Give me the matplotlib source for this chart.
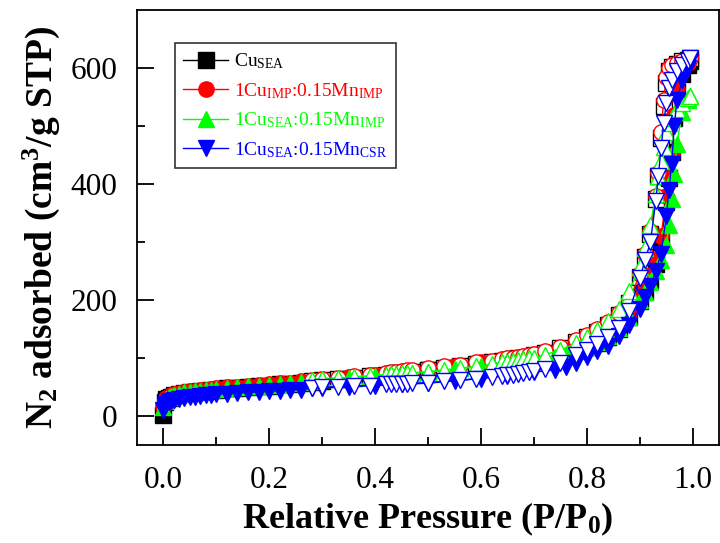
import matplotlib
matplotlib.use('Agg')
import matplotlib.pyplot as plt

plt.rcParams['font.family'] = 'Liberation Serif'
plt.rcParams['mathtext.fontset'] = 'custom'
plt.rcParams['mathtext.rm'] = 'Liberation Serif'
plt.rcParams['mathtext.it'] = 'Liberation Serif:italic'
plt.rcParams['mathtext.bf'] = 'Liberation Serif:bold'

# pressao relativa - ramo de adsorcao
p_ads = [0.0, 0.003, 0.006, 0.01, 0.015, 0.02, 0.03, 0.04, 0.05, 0.06, 0.07, 0.08,
         0.09, 0.10, 0.12, 0.14, 0.16, 0.18, 0.20, 0.22, 0.24, 0.26, 0.28,
         0.30, 0.35, 0.40, 0.45, 0.50, 0.55, 0.60, 0.65, 0.70,
         0.74, 0.76, 0.78, 0.80, 0.82, 0.84, 0.86, 0.88, 0.90, 0.91, 0.92, 0.93,
         0.94, 0.95, 0.955, 0.96, 0.965, 0.97, 0.98, 0.99, 0.995]

# pressao relativa - ramo de dessorcao
p_des = [0.28, 0.30, 0.33, 0.36, 0.39, 0.42, 0.43, 0.44, 0.45, 0.46, 0.47, 0.50,
         0.53, 0.56, 0.59, 0.62, 0.64, 0.65, 0.66, 0.67, 0.68, 0.69, 0.70, 0.72,
         0.75, 0.78, 0.80, 0.82, 0.84, 0.86, 0.88, 0.90, 0.91, 0.92, 0.93, 0.935,
         0.94, 0.945, 0.95, 0.955, 0.96, 0.97, 0.98, 0.99, 0.995]

# Cu_SEA
cu_ads = [2, 24, 29, 32, 34, 36, 38, 40, 41, 42, 43, 44, 45, 46, 48, 49, 51, 52, 53, 55, 56, 58, 59,
          61, 64, 69, 74, 79, 84, 90, 96, 102,
          105, 109, 114, 119, 126, 136, 150, 172, 198, 215, 235, 262, 300, 370, 410, 455, 515, 560, 590, 605, 612]
cu_des = [60, 62, 64, 66, 69, 72, 73, 74, 75, 76, 77, 80, 83, 86, 90, 93, 96, 97, 98, 100, 101, 103, 105,
          109, 117, 128, 136, 146, 158, 174, 196, 240, 275, 315, 375, 415, 480, 535, 575, 595, 603, 608,
          612, 615, 617]

# 1Cu_IMP:0.15Mn_IMP
imp_ads = [18, 27, 31, 34, 36, 38, 40, 42, 43, 44, 45, 46, 47, 48, 50, 51, 53, 54, 55, 57, 58, 60, 61,
           63, 67, 72, 77, 82, 87, 93, 99, 105,
           108, 112, 117, 122, 130, 140, 155, 178, 205, 222, 243, 272, 310, 380, 410, 450, 520, 565, 595, 610, 618]
imp_des = [62, 64, 66, 69, 72, 75, 76, 77, 78, 79, 80, 83, 86, 89, 93, 96, 99, 100, 101, 103, 104, 106, 108,
           112, 120, 132, 140, 150, 162, 178, 200, 245, 280, 320, 380, 420, 490, 545, 585, 600, 606, 610,
           613, 616, 618]

# 1Cu_SEA:0.15Mn_IMP
sea_ads = [16, 26, 30, 33, 35, 37, 39, 41, 42, 43, 44, 45, 46, 47, 49, 50, 52, 53, 54, 56, 57, 59, 61,
           64, 66, 70, 73, 76, 81, 86, 93, 99,
           103, 108, 113, 120, 128, 138, 152, 172, 200, 215, 232, 250, 270, 295, 330, 375, 418, 470, 525, 545, 552]
sea_des = [63, 65, 66, 68, 70, 72, 73, 73, 74, 75, 75, 77, 80, 83, 86, 90, 93, 94, 95, 97, 98, 100, 101,
           106, 114, 126, 136, 148, 164, 185, 216, 258, 290, 330, 383, 415, 440, 465, 490, 505, 515, 530,
           540, 548, 552]

# 1Cu_SEA:0.15Mn_CSR
csr_ads = [10, 17, 21, 24, 26, 28, 30, 32, 33, 34, 35, 36, 37, 38, 39, 40, 41, 42, 43, 44, 45, 46, 48,
           49, 51, 53, 55, 57, 61, 65, 70, 76,
           80, 85, 92, 103, 113, 122, 138, 158, 185, 205, 225, 250, 280, 345, 390, 435, 500, 545, 580, 600, 612]
csr_des = [49, 50, 51, 52, 53, 55, 55, 56, 56, 56, 57, 58, 60, 62, 65, 68, 70, 71, 72, 73, 75, 76, 78,
           82, 91, 105, 115, 124, 136, 152, 182, 238, 270, 300, 371, 415, 462, 505, 540, 566, 580, 595,
           605, 612, 617]

amostras = [
    (r'Cu$_{\mathrm{SEA}}$', cu_ads, cu_des, 'black', 's'),
    (r'1Cu$_{\mathrm{IMP}}$:0.15Mn$_{\mathrm{IMP}}$', imp_ads, imp_des, 'red', 'o'),
    (r'1Cu$_{\mathrm{SEA}}$:0.15Mn$_{\mathrm{IMP}}$', sea_ads, sea_des, '#00ff00', '^'),
    (r'1Cu$_{\mathrm{SEA}}$:0.15Mn$_{\mathrm{CSR}}$', csr_ads, csr_des, 'blue', 'v'),
]

fig = plt.figure(figsize=(7.2, 5.43), dpi=100)
ax = fig.add_axes([0.19, 0.18, 0.809, 0.801])

for nome, ads, des, cor, marc in amostras:
    ax.plot(p_ads, ads, color=cor, marker=marc, markersize=11, linewidth=1.0,
            markeredgecolor=cor, markerfacecolor=cor, label=nome)
    ax.plot(p_des, des, color=cor, marker=marc, markersize=11, linewidth=1.0,
            markeredgecolor=cor, markerfacecolor='white', markeredgewidth=1.0)

ax.set_xlim(-0.05, 1.05)
ax.set_ylim(-50, 700)
ax.set_xticks([0.0, 0.2, 0.4, 0.6, 0.8, 1.0])
ax.set_xticks([0.1, 0.3, 0.5, 0.7, 0.9], minor=True)
ax.set_yticks([0, 200, 400, 600])
ax.set_yticks([100, 300, 500], minor=True)

for lado in ax.spines.values():
    lado.set_linewidth(1.3)
ax.tick_params(which='major', direction='in', length=12, width=1.3, labelsize=22.5)
ax.tick_params(which='minor', direction='in', length=6, width=1.3)
ax.tick_params(axis='x', which='major', pad=15)
ax.tick_params(axis='y', which='major', pad=14)

ax.set_xlabel(r'Relative Pressure (P/P$_\mathbf{0}$)', fontsize=26, fontweight='bold', labelpad=4)
ax.set_ylabel(r'N$_\mathbf{2}$ adsorbed (cm$^\mathbf{3}$/g STP)', fontsize=27, fontweight='bold', labelpad=6)

leg = ax.legend(loc='upper left', bbox_to_anchor=(0.065, 0.925), borderaxespad=0,
                fancybox=False, edgecolor='black', fontsize=14, numpoints=1,
                handlelength=2.3, labelcolor='linecolor', labelspacing=0.5,
                handletextpad=0.3, borderpad=0.45)
leg.get_frame().set_linewidth(1.2)

fig.savefig('out.png', dpi=100)
